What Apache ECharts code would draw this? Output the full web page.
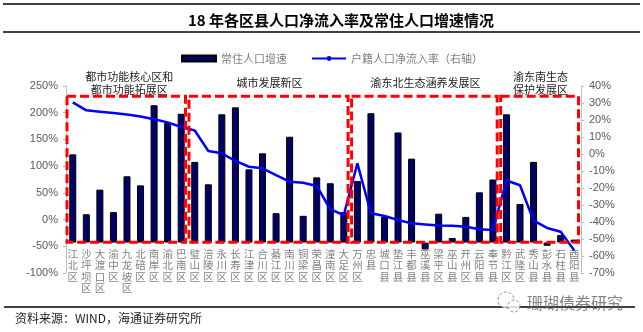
<!DOCTYPE html>
<html><head><meta charset="utf-8">
<script src="https://cdn.jsdelivr.net/npm/echarts@6/dist/echarts.min.js"></script>
<style>html,body{margin:0;padding:0;background:#fff}#c{width:643px;height:332px}</style>
</head><body><div id="c"></div>
<script>
const categories = ['江北区','沙坪坝区','大渡口区','渝中区','九龙坡区','北碚区','南岸区','渝北区','巴南区',
  '璧山区','涪陵区','永川区','长寿区','江津区','合川区','綦江区','南川区','铜梁区','荣昌区','潼南区','大足区',
  '万州区','忠县','城口县','垫江县','丰都县','巫溪县','梁平区','巫山县','开州区','云阳县','奉节县',
  '黔江区','武隆区','秀山县','彭水县','石柱县','酉阳县'];
// 常住人口增速 (left axis, %)
const growth = [122, 10, 56, 14, 81, 64, 214, 181, 198,
  108, 66, 197, 210, 94, 124, 12, 155, 7, 79, 68, 14,
  72, 199, 5, 163, 114, -56, 11, -34.5, 5, 51, 75,
  197, 29, 108, -49, -29, -37.5];
// 户籍人口净流入率 (right axis, %)
const inflow = [30.4, 25.7, 24.9, 24.1, 23.3, 22.1, 20.4, 18.6, 15.9,
  13.8, 1.8, 0.4, -4.1, -7.5, -8.4, -12.4, -16.3, -16.9, -18.8, -32.5, -35.9,
  -5.5, -34.9, -36.5, -38.8, -40.8, -41.4, -42.0, -42.2, -42.8, -44.3, -44.7,
  -15.6, -18.4, -39.2, -43.5, -45.7, -56.7];
const leftMin = -100, leftMax = 250, leftInterval = 50;
const rightMin = -70, rightMax = 40, rightInterval = 10;
const BASE = -43; // bars grow from the category axis crossing
const groupNames = ['都市功能核心区和\n都市功能拓展区', '城市发展新区', '渝东北生态涵养发展区', '渝东南生态\n保护发展区'];
const groupFirst = ['江北区', '璧山区', '万州区', '黔江区'];
const groupLast = ['巴南区', '大足区', '奉节县', '酉阳县'];

const CJK = '"Noto Sans CJK SC", sans-serif';
const ARIAL = '"Liberation Sans", Arial, sans-serif';
const chart = echarts.init(document.getElementById('c'));
const axisGray = '#bfbfbf';
const GRID_BOTTOM = 59;
const option = {
  animation: false,
  title: {text: '18 年各区县人口净流入率及常住人口增速情况', left: 183, top: 8,
    textStyle: {fontSize: 15, fontWeight: 'bold', color: '#000', fontFamily: CJK}},
  legend: {left: 176, top: 48, itemWidth: 34, itemHeight: 6, itemGap: 24,
    textStyle: {fontSize: 11, color: '#7f7f7f', fontFamily: CJK},
    data: [{name: '常住人口增速', icon: 'rect'}, {name: '户籍人口净流入率（右轴）'}]},
  grid: {left: 66, right: 62, top: 86, bottom: GRID_BOTTOM, outerBoundsMode: 'none'},
  xAxis: {type: 'category', data: categories, offset: -31,
    axisLine: {show: false, onZero: false},
    axisTick: {show: false},
    axisLabel: {interval: 0, margin: 6, fontSize: 10.5, lineHeight: 11.5, verticalAlign: 'top', color: '#808080', fontFamily: CJK,
      formatter: v => v.split('').join('\n')}},
  yAxis: [
    {type: 'value', min: leftMin, max: leftMax, interval: leftInterval, position: 'left',
      axisLine: {show: true, lineStyle: {color: axisGray}},
      axisTick: {show: true, length: 3, lineStyle: {color: axisGray}},
      splitLine: {show: false},
      axisLabel: {formatter: '{value}%', fontSize: 11, color: '#595959', fontFamily: ARIAL, margin: 8}},
    {type: 'value', min: rightMin, max: rightMax, interval: rightInterval, position: 'right',
      axisLine: {show: true, lineStyle: {color: axisGray}},
      axisTick: {show: true, length: 3, lineStyle: {color: axisGray}},
      splitLine: {show: false},
      axisLabel: {formatter: '{value}%', fontSize: 11, color: '#595959', fontFamily: ARIAL, margin: 8}},
    {type: 'value', min: leftMin - BASE, max: leftMax - BASE, show: false, position: 'left'}
  ],
  series: [
    {name: '常住人口增速', type: 'bar', yAxisIndex: 2, data: growth.map(v => v - BASE), barWidth: 7,
      itemStyle: {color: '#000066', borderColor: '#000', borderWidth: 1}},
    {name: '户籍人口净流入率（右轴）', type: 'line', yAxisIndex: 1, data: inflow, symbol: 'none',
      lineStyle: {color: '#0000ff', width: 2.5}, itemStyle: {color: '#0000ff'}, z: 3}
  ]
};
chart.setOption(option);

const idx = name => categories.indexOf(name);
const c0 = chart.convertToPixel({xAxisIndex: 0}, 0);
const bw = chart.convertToPixel({xAxisIndex: 0}, 1) - c0;
const yTop = chart.convertToPixel({yAxisIndex: 0}, 231);
const yBot = chart.convertToPixel({yAxisIndex: 0}, -42.5);
const graphics = [];
groupNames.forEach((g, k) => {
  const l = chart.convertToPixel({xAxisIndex: 0}, idx(groupFirst[k])) - bw / 2 + 1;
  const r = chart.convertToPixel({xAxisIndex: 0}, idx(groupLast[k])) + bw / 2 - 2.5;
  graphics.push({type: 'rect', z: 100, shape: {x: l, y: yTop, width: r - l, height: yBot - yTop},
    style: {fill: null, stroke: '#ff0000', lineWidth: 3, lineDash: [9, 4]}});
  graphics.push({type: 'text', z: 100, x: (l + r) / 2 + (k === 0 ? 3 : 1), y: yTop - 13,
    style: {text: g, align: 'center', verticalAlign: 'middle', font: '11px ' + CJK, fill: '#222', lineHeight: 12.6}});
});
graphics.push({type: 'line', shape: {x1: 3, y1: 4, x2: 640, y2: 4}, style: {stroke: '#000', lineWidth: 1.5}});
graphics.push({type: 'line', shape: {x1: 3, y1: 32, x2: 640, y2: 32}, style: {stroke: '#000', lineWidth: 1.5}});
graphics.push({type: 'line', shape: {x1: 4, y1: 307, x2: 635, y2: 307}, style: {stroke: '#000', lineWidth: 1.5}});
graphics.push({type: 'text', x: 15, y: 318, style: {text: '资料来源：WIND，海通证券研究所', verticalAlign: 'middle',
  font: '12px ' + CJK, fill: '#222'}});
graphics.push({type: 'circle', shape: {cx: 506, cy: 300, r: 8}, style: {fill: 'rgba(255,255,255,0.8)', stroke: 'rgba(120,120,120,0.8)', lineWidth: 1, lineDash: [3, 2]}});
graphics.push({type: 'circle', shape: {cx: 514, cy: 306, r: 6}, style: {fill: 'rgba(255,255,255,0.8)', stroke: 'rgba(120,120,120,0.8)', lineWidth: 1, lineDash: [3, 2]}});
graphics.push({type: 'text', x: 527, y: 303, style: {text: '珊瑚债券研究', verticalAlign: 'middle',
  font: '16px ' + CJK, fill: 'rgba(90,90,90,0.75)'}});
chart.setOption({graphic: graphics});
</script></body></html>
